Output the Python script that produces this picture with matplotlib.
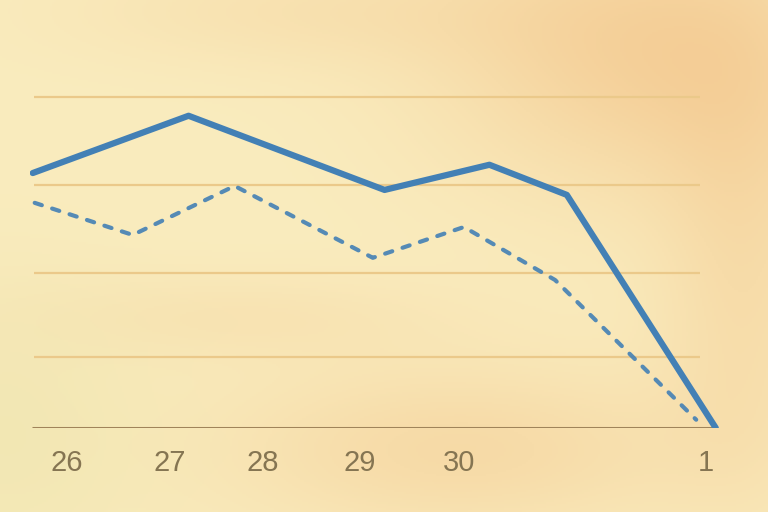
import matplotlib.pyplot as plt
import numpy as np

# values (x in days from the "26" tick, y scaled so top gridline = 100)
solid_x = [-0.35, 1.24, 3.24, 4.31, 5.10, 6.62]
solid_y = [77.0, 94.3, 71.9, 79.5, 70.4, 0.0]
dashed_x = [-0.33, 0.67, 1.71, 3.12, 4.05, 4.98, 6.42]
dashed_y = [68.0, 58.3, 73.1, 51.4, 60.7, 44.7, 2.5]
tick_pos = [0.0, 1.05, 2.0, 2.99, 4.0, 6.52]
tick_labels = ["26", "27", "28", "29", "30", "1"]
grid_levels = [21.5, 46.8, 73.4, 100.0]

line_color = "#4380b5"
grid_color = "#ebc98a"
base_color = "#a0845a"
label_color = "#857552"

fig = plt.figure(figsize=(7.68, 5.12), dpi=100)

# paper-like wash behind everything
bg = fig.add_axes([0, 0, 1, 1])
bg.axis("off")
h, w = 256, 384
yy, xx = np.mgrid[0:1:h * 1j, 0:1:w * 1j]
base = np.array([250, 236, 190]) / 255.0
orange = np.array([244, 204, 148]) / 255.0
green = np.array([236, 228, 172]) / 255.0


def blob(cx, cy, sx, sy):
    return np.exp(-((xx - cx) ** 2 / (2 * sx ** 2) + (yy - cy) ** 2 / (2 * sy ** 2)))


o = np.clip(0.85 * blob(0.86, 0.1, 0.2, 0.2) + 0.55 * blob(0.6, 0.88, 0.22, 0.12)
            + 0.45 * blob(0.97, 0.55, 0.08, 0.3) + 0.3 * blob(0.4, 0.02, 0.22, 0.08)
            + 0.25 * blob(0.3, 0.62, 0.2, 0.06), 0, 1)
g = np.clip(0.55 * blob(0.0, 0.85, 0.14, 0.22), 0, 1)
img = base[None, None, :] * (1 - o[..., None]) + orange[None, None, :] * o[..., None]
img = img * (1 - g[..., None]) + green[None, None, :] * g[..., None]
bg.imshow(img, aspect="auto", extent=[0, 1, 0, 1], origin="upper")
bg.set_xlim(0, 1)
bg.set_ylim(0, 1)

ax = fig.add_axes([30 / 768, 84 / 512, 690 / 768, 348 / 512])
ax.patch.set_alpha(0)
ax.set_xlim(-0.378, 6.663)
ax.set_ylim(0, 105.1)

ax.hlines(grid_levels, -0.34, 6.46, color=grid_color, lw=1.6, zorder=1)
ax.hlines([0], -0.36, 6.60, color=base_color, lw=2.2, zorder=1)

ax.plot(solid_x, solid_y, color=line_color, lw=4.5, solid_capstyle="round",
        solid_joinstyle="round", zorder=3)
ax.plot(dashed_x, dashed_y, color=line_color, lw=3.0, linestyle=(0, (1.8, 2.6)),
        dash_capstyle="round", alpha=0.9, zorder=3)

ax.set_xticks(tick_pos)
ax.set_xticklabels(tick_labels, family=["Liberation Sans", "DejaVu Sans"])
ax.tick_params(axis="x", length=0, pad=15, labelsize=21, labelcolor=label_color)
ax.set_yticks([])
for s in ax.spines.values():
    s.set_visible(False)

fig.savefig("out.png", dpi=100)
